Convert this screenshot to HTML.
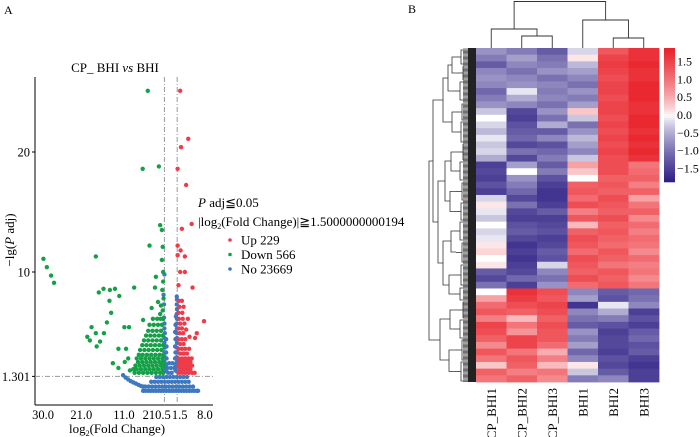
<!DOCTYPE html>
<html><head><meta charset="utf-8">
<style>
html,body{margin:0;padding:0;background:#fff;}
svg{display:block;}
svg text{font-family:"Liberation Serif","Times New Roman",serif;}
</style></head>
<body>
<svg id="fig" width="700" height="437" viewBox="0 0 700 437" xmlns="http://www.w3.org/2000/svg" font-family="Liberation Serif, serif">
<text x="4" y="14" font-size="12">A</text>
<text x="408" y="13" font-size="12">B</text>
<g id="volcano"></g>
<g id="heat"></g>
</svg>
<script>
// ---------- Volcano data ----------
const xTickVals = [-30, -21, -11, -3.3, 2.1, 8];
const xTickLabels = ["30.0", "21.0", "11.0", "210.5", "1.5", "8.0"];
const yTickVals = [20, 10, 1.301];
const yTickLabels = ["20", "10", "1.301"];
const thresholds = [-1.5, 1.5];
const pThreshold = 1.301;
const greenPts = [[-29.9,11.1],[-29.1,10.4],[-28.1,9.7],[-27.4,9.1],[-17.6,11.3],[-5.4,25.1],[-6.6,18.6],[-2.8,18.8],
[-16.9,8.3],[-15.8,8.6],[-14.3,8.5],[-13.1,8.6],[-12.1,8.0],[-8.6,8.7],[-14.4,7.6],[-14.0,6.6],[-15.0,5.8],[-18.6,5.4],
[-19.6,4.6],[-19.0,4.3],[-17.6,4.9],[-17.4,3.8],[-16.6,4.2],[-15.7,4.9],[-10.9,5.4],[-9.8,5.4],[-12.3,3.6],[-10.5,3.6],
[-13.6,2.4],[-12.3,2.0],[-10.8,2.5],[-9.6,1.8],[-8.8,1.9],[-10.0,2.8],[-6.5,6.0],[-5.0,12.2],[-3.7,8.7],[-2.5,13.9],
[-2.1,13.5],[-1.9,12.1],[-2.1,11.0],[-1.8,10.0],[-3.5,9.6],[-1.8,9.2],[-2.0,8.5],[-1.7,7.8],[-2.3,7.2],[-1.9,6.8],[-2.5,6.5],[-3.0,7.5],[-4.5,7.0],
[-8.5,1.6],[-7.5,1.6],[-6.5,1.6],[-5.5,1.6],[-4.5,1.6],[-3.5,1.6],[-2.5,1.6],[-1.8,1.6],
[-8.0,1.9],[-7.0,1.9],[-6.0,1.9],[-5.0,1.9],[-4.0,1.9],[-3.0,1.9],[-2.0,1.9],
[-8.3,2.2],[-7.3,2.2],[-6.3,2.2],[-5.3,2.2],[-4.3,2.2],[-3.3,2.2],[-2.3,2.2],[-1.7,2.2],
[-7.7,2.5],[-6.7,2.5],[-5.7,2.5],[-4.7,2.5],[-3.7,2.5],[-2.7,2.5],[-1.9,2.5],
[-8.0,2.8],[-7.0,2.8],[-6.0,2.8],[-5.0,2.8],[-4.0,2.8],[-3.0,2.8],[-2.0,2.8],
[-7.5,3.1],[-6.6,3.1],[-5.6,3.1],[-4.6,3.1],[-3.6,3.1],[-2.6,3.1],[-1.7,3.1],
[-7.2,3.5],[-6.2,3.5],[-5.2,3.5],[-4.2,3.5],[-3.2,3.5],[-2.2,3.5],
[-6.7,3.9],[-5.7,3.9],[-4.7,3.9],[-3.7,3.9],[-2.7,3.9],[-1.8,3.9],
[-6.3,4.3],[-5.3,4.3],[-4.3,4.3],[-3.3,4.3],[-2.3,4.3],
[-5.8,4.7],[-4.8,4.7],[-3.8,4.7],[-2.8,4.7],[-1.9,4.7],
[-5.3,5.1],[-4.3,5.1],[-3.3,5.1],[-2.3,5.1],
[-5.0,5.6],[-4.0,5.6],[-3.0,5.6],[-2.1,5.6],
[-4.2,6.1],[-3.2,6.1],[-2.4,6.1],[-1.8,6.1]];
const redPts = [[2.2,25.1],[4.1,21.1],[2.4,20.4],[1.6,18.6],[3.6,17.25],[4.9,14.0],[2.6,13.6],
[1.6,12.2],[2.3,11.8],[1.6,11.4],[3.3,11.3],[2.2,10.0],[3.3,10.0],[1.8,8.9],[5.1,8.7],[7.8,5.9],[6.1,4.9],[5.7,4.5],
[1.8,1.6],[2.6,1.6],[3.4,1.6],[4.2,1.6],[5.0,1.6],[5.6,1.6],
[2.2,1.9],[3.0,1.9],[3.8,1.9],[4.6,1.9],
[1.8,2.2],[2.6,2.2],[3.4,2.2],[4.2,2.2],[5.0,2.2],
[2.2,2.5],[3.0,2.5],[3.8,2.5],[4.6,2.5],
[1.8,2.8],[2.6,2.8],[3.4,2.8],[4.2,2.8],[4.9,2.8],
[2.2,3.2],[3.0,3.2],[3.8,3.2],
[1.8,3.6],[2.6,3.6],[3.4,3.6],[4.3,3.6],
[2.2,4.0],[3.0,4.0],[1.8,4.4],[2.6,4.4],[3.4,4.4],[4.4,4.6],
[2.1,4.9],[2.9,4.9],[1.8,5.3],[2.6,5.3],[3.6,5.2],[2.2,5.7],[3.2,5.7],
[1.9,6.1],[2.8,6.1],[4.0,6.1],[1.8,6.6],[2.7,6.6],[2.0,7.1],[3.0,7.1],[1.9,7.6],[2.6,7.6]];
const bluePts = [[-11.2,1.4],[-10.6,1.2],[-10.0,1.05],[-9.4,0.9],[-8.8,0.8],[-8.2,0.7],[-7.6,0.6],[-7.0,0.5],[-6.5,0.45],
[-6.5,0.1],[-5.9,0.1],[-5.3,0.1],[-4.7,0.1],[-4.1,0.1],[-3.5,0.1],[-2.9,0.1],[-2.3,0.1],[-1.7,0.1],[-1.1,0.1],[-0.5,0.1],[0.1,0.1],[0.7,0.1],[1.3,0.1],[1.9,0.1],[2.5,0.1],[3.1,0.1],[3.7,0.1],[4.3,0.1],[4.9,0.1],[5.5,0.1],[6.1,0.1],[6.4,0.1],
[-6.0,0.45],[-5.2,0.45],[-4.4,0.45],[-3.6,0.45],[-2.8,0.45],[-2.0,0.45],[-1.2,0.45],[-0.4,0.45],[0.4,0.45],[1.2,0.45],[2.0,0.45],[2.8,0.45],[3.6,0.45],[4.4,0.45],[5.2,0.45],
[-4.6,0.85],[-3.8,0.85],[-3.0,0.85],[-2.2,0.85],[-1.4,0.85],[-0.6,0.85],[0.2,0.85],[1.0,0.85],[1.8,0.85],[2.6,0.85],[3.4,0.85],[4.2,0.85],
[-3.4,1.25],[-2.6,1.25],[-1.8,1.25],[-1.0,1.25],[-0.2,1.25],[0.6,1.25],[1.4,1.25],[2.2,1.25],[3.0,1.25],[3.8,1.25],
[-0.6,1.6],[0.2,1.6],[-0.8,2.0],[0.0,2.0],[0.8,2.0],[-0.4,2.4],[0.4,2.4],
[-1.5,1.7],[-1.5,2.1],[-1.5,2.5],[-1.4,2.9],[-1.5,3.3],[-1.4,3.7],[-1.5,4.1],[-1.5,4.5],[-1.4,4.9],[-1.5,5.3],[-1.5,5.7],[-1.6,6.2],
[-1.1,1.8],[-1.1,2.3],[-1.0,2.8],[-1.1,3.3],[-1.0,3.8],[-1.1,4.4],[-1.6,7.3],[-1.7,8.1],[-1.5,9.8],
[1.1,1.8],[1.1,2.3],[1.0,2.8],[1.1,3.3],[1.0,3.8],[1.1,4.4],[1.0,5.0],
[1.45,1.7],[1.45,2.1],[1.45,2.5],[1.4,2.9],[1.45,3.3],[1.4,3.7],[1.45,4.1],[1.45,4.5],[1.4,4.9],[1.45,5.3],[1.4,5.7],[1.45,6.1],[1.4,6.5],[1.45,6.9],[1.4,7.3],[1.45,7.7],[1.4,7.95],[1.1,5.6],[1.2,6.3]];
const legendItems = ["Up 229", "Down 566", "No 23669"];

// ---------- Heatmap data ----------
const samples = ["CP_BHI1","CP_BHI2","CP_BHI3","BHI1","BHI2","BHI3"];
const colorTicks = [1.5, 1.0, 0.5, 0.0, -0.5, -1.0, -1.5];
const colorTickLabels = ["1.5","1.0","0.5","0.0","\u22120.5","\u22121.0","\u22121.5"];
const heatRows = [
[-0.7,-0.9,-1.2,-0.2,1.3,1.7],[-0.9,-0.6,-1.0,0.1,1.5,1.7],[-1.2,-0.8,-0.9,-0.4,1.6,1.8],[-0.8,-1.0,-0.7,-0.6,1.5,1.7],
[-0.7,-0.8,-1.0,-0.8,1.4,1.7],[-0.8,-0.7,-0.8,-1.0,1.5,1.8],[-1.1,-0.1,-0.9,-0.7,1.5,1.8],[-0.9,-0.5,-0.8,-0.9,1.4,1.8],
[-0.7,-0.8,-1.0,-0.6,1.5,1.7],[-0.3,-1.4,-0.7,0.3,1.5,1.7],
[0.0,-1.5,-1.0,-0.3,1.4,1.8],[-0.2,-1.3,-0.5,-1.0,1.5,1.8],[-0.4,-1.2,-1.2,-0.7,1.4,1.7],[-0.1,-1.1,-0.8,-0.4,1.5,1.8],
[-0.3,-1.4,-1.3,-0.6,1.4,1.7],[-0.2,-1.0,-1.1,-0.8,1.5,1.8],[-0.5,-1.4,-0.9,-0.3,1.4,1.7],
[-1.5,-0.6,-1.2,0.6,1.4,1.0],[-1.4,0.0,-0.9,0.3,1.4,1.1],[-1.5,-0.7,-1.3,0.0,1.2,1.2],[-1.3,-0.9,-1.5,1.2,1.3,0.9],
[-1.5,-1.1,-1.6,1.3,1.2,1.2],[-0.2,-1.4,-1.6,1.1,1.4,0.6],[0.1,-1.0,-1.5,1.4,1.3,1.0],[-0.1,-1.4,-1.2,0.9,1.2,1.2],
[-0.3,-1.5,-1.5,1.3,1.4,0.8],[0.0,-1.3,-1.4,0.4,1.2,1.1],[-0.2,-1.2,-1.3,1.2,1.3,0.9],[-0.1,-1.4,-1.5,1.4,1.2,1.1],
[0.1,-1.6,-1.4,1.3,1.1,1.0],[0.2,-1.5,-1.2,1.1,1.3,0.8],[0.0,-1.6,-1.3,1.4,1.2,1.1],[0.1,-1.5,-0.2,1.3,1.0,0.9],
[-1.2,-1.4,-0.8,1.2,1.3,1.0],[-1.4,-1.1,-1.0,1.4,1.2,0.8],[-1.0,-1.5,-0.7,1.1,1.3,1.0],
[0.0,1.7,1.4,-0.8,-1.2,-1.1],[0.6,1.6,1.3,-0.6,-1.3,-1.0],[1.1,1.4,1.5,-1.6,-0.1,-0.8],[1.3,1.2,1.4,-0.8,-0.5,-1.5],
[0.9,0.4,1.2,-1.0,-0.9,-1.3],[1.5,1.0,1.4,-1.2,-1.3,-1.5],[1.4,0.7,1.3,-0.7,-1.5,-1.2],
[1.2,1.5,1.3,-0.9,-1.4,-1.1],[0.8,1.5,1.1,-0.6,-1.4,-1.3],[1.3,1.0,0.5,-1.1,-1.5,-1.2],[1.0,1.3,0.9,-0.8,-1.3,-1.5],
[0.3,1.2,0.4,0.1,-1.4,-1.6],[1.2,0.9,1.0,-0.3,-1.2,-1.5],[1.0,1.2,0.8,-0.9,-0.8,-1.5]];

const NS = "http://www.w3.org/2000/svg";
function mk(tag, attrs, parent, txt) {
  const e = document.createElementNS(NS, tag);
  for (const k in attrs) e.setAttribute(k, attrs[k]);
  if (txt !== undefined) e.textContent = txt;
  parent.appendChild(e);
  return e;
}

// ---------- Volcano ----------
const V = document.getElementById('volcano');
const xS = v => 43 + (v + 30) * 4.26;
const yS = v => 392 - v * 12;
let t = mk('text', {x:115, y:72, 'font-size':13, 'text-anchor':'middle'}, V);


t.innerHTML = 'CP_ BHI <tspan font-style="italic">vs</tspan> BHI';
let ln = mk('line', {x1:35, y1:77, x2:35, y2:405, stroke:'#000', 'stroke-width':1}, V);


ln = mk('line', {x1:35, y1:405, x2:213, y2:405, stroke:'#000', 'stroke-width':1}, V);


thresholds.forEach(v => {
  const l = mk('line', {x1:xS(v), y1:77, x2:xS(v), y2:405, stroke:'#999', 'stroke-dasharray':'5,2,1,2'}, V);
  
  
});
ln = mk('line', {x1:35, y1:yS(pThreshold), x2:213, y2:yS(pThreshold), stroke:'#999', 'stroke-dasharray':'5,2,1,2'}, V);


function drawPts(arr, col, name) {
  arr.forEach(p => {
    const c = mk('circle', {cx:xS(p[0]), cy:yS(p[1]), r:2.2, fill:col}, V);
    
    
  });
}
drawPts(bluePts, '#3d78c0', 'point-no');
drawPts(greenPts, '#14a046', 'point-down');
drawPts(redPts, '#ee3b49', 'point-up');
yTickVals.forEach((v, i) => {
  const l = mk('line', {x1:32, y1:yS(v), x2:35, y2:yS(v), stroke:'#000'}, V);
  
  
  const tx = mk('text', {x:30, y:yS(v) + 4.5, 'font-size':12.5, 'text-anchor':'end'}, V, yTickLabels[i]);
  
  
});
xTickVals.forEach((v, i) => {
  const tx = mk('text', {x:xS(v), y:419, 'font-size':12.5, 'text-anchor':'middle'}, V, xTickLabels[i]);
  
  
});
t = mk('text', {x:117, y:433, 'font-size':13, 'text-anchor':'middle'}, V);


t.innerHTML = 'log<tspan font-size="8" dy="3">2</tspan><tspan dy="-3">(Fold Change)</tspan>';
t = mk('text', {x:0, y:0, 'font-size':13, 'text-anchor':'middle', transform:'translate(14,240) rotate(-90)'}, V);


t.innerHTML = '\u2212lg(<tspan font-style="italic">P</tspan> adj)';
t = mk('text', {x:198, y:207, 'font-size':13}, V);


t.innerHTML = '<tspan font-style="italic">P</tspan> adj\u22660.05';
t = mk('text', {x:198, y:226, 'font-size':13}, V);


t.innerHTML = '|log<tspan font-size="8" dy="3">2</tspan><tspan dy="-3">(Fold Change)|\u22671.5000000000194</tspan>';
const legCols = ['#ee3b49', '#14a046', '#3d78c0'];
legendItems.forEach((s, i) => {
  const y = 240 + i * 14.5;
  const c = mk('circle', {cx:230, cy:y, r:1.8, fill:legCols[i]}, V);
  
  
  const tx = mk('text', {x:241, y:y + 4.5, 'font-size':13}, V, s);
  
  
});

// ---------- Heatmap ----------
const H = document.getElementById('heat');
const hx0 = 476, hx1 = 659, hy0 = 48, hy1 = 382;
const cw = (hx1 - hx0) / samples.length;
const rh = (hy1 - hy0) / heatRows.length;
const blue = [44, 30, 132], red = [234, 36, 44];
function col(v) {
  const f = Math.max(-1, Math.min(1, v / 1.85));
  const tgt = f < 0 ? blue : red, a = Math.pow(Math.abs(f), 0.75);
  const c = tgt.map(k => Math.round(255 + (k - 255) * a));
  return 'rgb(' + c.join(',') + ')';
}
heatRows.forEach((row, r) => {
  row.forEach((v, c) => {
    const rc = mk('rect', {x:hx0 + c * cw, y:hy0 + r * rh, width:cw + 0.4, height:rh + 0.4, fill:col(v)}, H);
    
    
  });
});
samples.forEach((s, i) => {
  const cx = hx0 + cw * (i + 0.5);
  const tx = mk('text', {x:0, y:0, 'font-size':13, 'text-anchor':'end', transform:'translate(' + (cx + 4.5) + ',388) rotate(-90)'}, H, s);
  
  
});
// color bar
const cbTop = 48, cbBot = 182, cbMax = 1.88;
const cbY = v => (cbTop + cbBot) / 2 - v / cbMax * (cbBot - cbTop) / 2;
for (let y = cbTop; y < cbBot; y += 2) {
  const v = cbMax - (y - cbTop) / (cbBot - cbTop) * 2 * cbMax;
  const rc = mk('rect', {x:664, y:y, width:11, height:2.3, fill:col(v)}, H);
  
  
}
colorTicks.forEach((v, i) => {
  const tx = mk('text', {x:677, y:cbY(v) + 4, 'font-size':12}, H, colorTickLabels[i]);
  
  
});
// column dendrogram
const cx = i => hx0 + cw * (i + 0.5);
const dg = mk('g', {stroke:'#333', fill:'none', 'stroke-width':0.9}, H);


function U(xa, ya, xb, yb, yt) { mk('path', {d:'M' + xa + ',' + ya + 'V' + yt + 'H' + xb + 'V' + yb}, dg); }
const m23 = (cx(1) + cx(2)) / 2, m45 = (cx(4) + cx(5)) / 2;
U(cx(1), 48, cx(2), 48, 36);
U(cx(0), 48, m23, 36, 29);
U(cx(4), 48, cx(5), 48, 38);
U(cx(3), 48, m45, 38, 20);
U((cx(0) + m23) / 2, 29, (cx(3) + m45) / 2, 20, 1.5);
// row dendrogram
const rg = mk('g', {stroke:'#333', fill:'none', 'stroke-width':0.8}, H);


function L(xa, ya, xm, yb, xb) { mk('path', {d:'M' + xa + ',' + ya + 'H' + xm + 'V' + yb + 'H' + xb}, rg); }
mk('rect', {x:468, y:48, width:8, height:334, fill:'#222', stroke:'none'}, rg);
for (let y = 49; y < 382; y += 1.2) mk('line', {x1:463, y1:y, x2:468, y2:y, stroke:'#111', 'stroke-width':0.6}, rg);
const clusters = [[50,64,461],[66,80,463],[82,100,460],[104,120,462],[122,142,461],[144,160,463],[162,180,460],[183,200,462],[203,220,461],[222,240,460],[243,262,462],[265,285,461],[288,300,460],[302,318,463],[320,338,460],[340,360,462],[362,381,461]];
clusters.forEach(c => { L(463, c[0], c[2], c[1], 463); mk('line', {x1:c[2], y1:(c[0] + c[1]) / 2, x2:c[2] - 6, y2:(c[0] + c[1]) / 2}, rg); });
function J(ya, yb, x, xa, xb) { mk('path', {d:'M' + xa + ',' + ya + 'H' + x + 'V' + yb + 'H' + xb}, rg); }
J(57, 73, 452, 455, 457); J(65, 91, 448, 452, 454);
J(112, 132, 452, 456, 455); J(78, 122, 443, 448, 452);
J(152, 171, 451, 457, 454); J(191.5, 211.5, 450, 456, 455); J(161, 201, 445, 451, 450);
J(231, 252, 451, 454, 456); J(275, 294, 449, 455, 454); J(241, 285, 443, 451, 449);
J(181, 263, 438, 445, 443); J(100, 222, 433, 443, 438);
J(310, 329, 450, 457, 454); J(350, 371.5, 449, 456, 455); J(319, 360, 440, 450, 449);
J(161, 340, 429, 433, 440);
</script>
</body></html>
